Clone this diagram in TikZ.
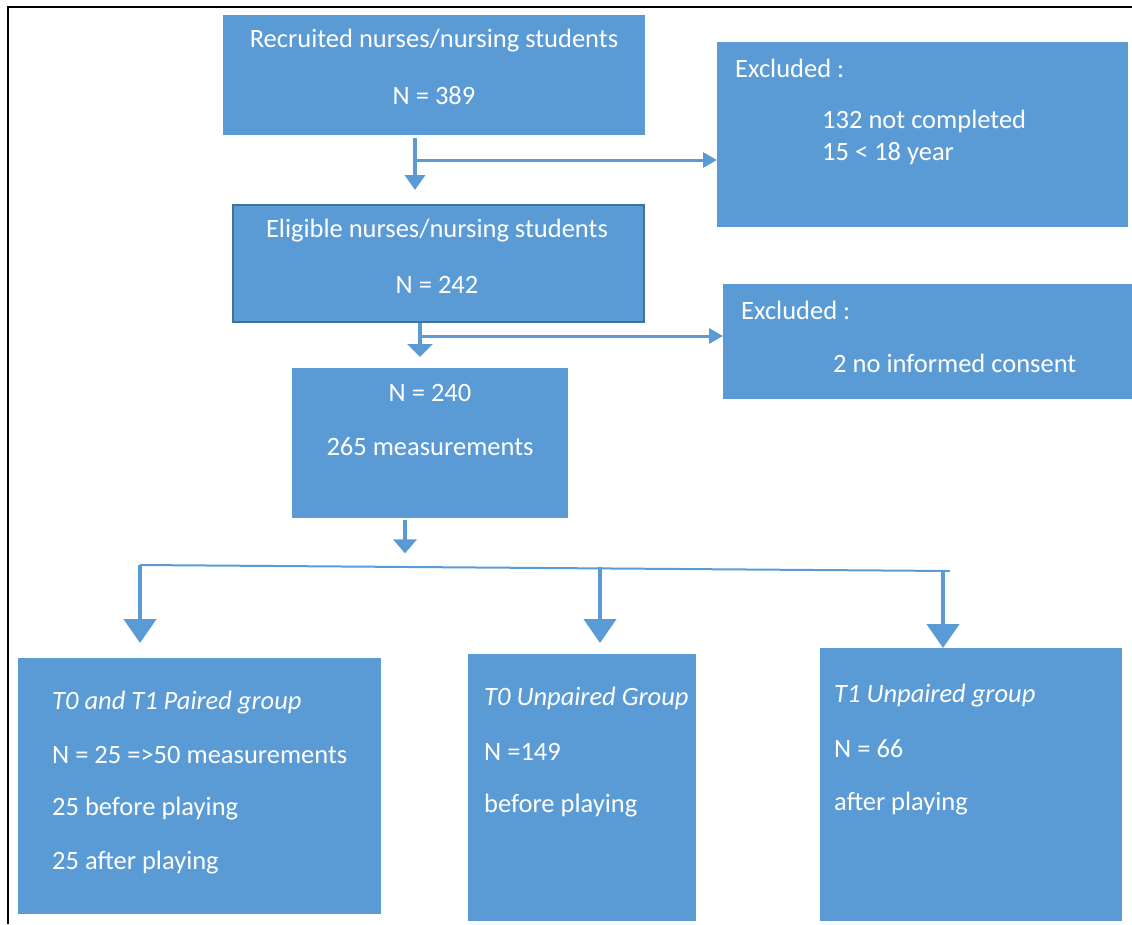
\documentclass[tikz,border=0pt]{standalone}
\usepackage{fontspec}
\setmainfont{Carlito}
\usetikzlibrary{arrows.meta}
\definecolor{boxblue}{HTML}{5B9BD5}
\definecolor{rimblue}{HTML}{41719C}

\begin{document}
\begin{tikzpicture}[x=1pt, y=-1pt,
        box/.style={fill=boxblue, draw=none, anchor=north west, inner sep=0pt},
        txt/.style={text=white, inner sep=0pt, font=\fontsize{26.5}{30}\selectfont},
        ltxt/.style={txt, anchor=west},
        down/.style={draw=boxblue, line width=4pt, -{Triangle[width=20pt, length=15pt]}},
        side/.style={draw=boxblue, line width=3pt, -{Triangle[width=15pt, length=14pt]}},
        bigdown/.style={draw=boxblue, line width=4.5pt, -{Triangle[width=32pt, length=24pt]}}
      ]
      \useasboundingbox (0,0) rectangle (1132,924);
      \draw[line width=1.5pt] (8,924) -- (8,7) -- (1132,7);

      % boxes
      \node[box, minimum width=422pt, minimum height=120pt] (rec) at (223,15) {};
      \node[box, minimum width=411pt, minimum height=185pt] (exa) at (717,42) {};
      \node[box, draw=rimblue, line width=2pt, minimum width=411pt, minimum height=117pt] (eli) at (232,204) {};
      \node[box, minimum width=409pt, minimum height=115pt] (exb) at (723,284) {};
      \node[box, minimum width=276pt, minimum height=150pt] (all) at (292,368) {};
      \node[box, minimum width=363pt, minimum height=256pt] (pair) at (18,658) {};
      \node[box, minimum width=228pt, minimum height=267pt] (unzero) at (468,654) {};
      \node[box, minimum width=302pt, minimum height=273pt] (unone) at (820,648) {};

      % texts
      \node[txt] (rec1) at (434,41) {Recruited nurses/nursing students};
      \node[txt] (rec2) at (434,96) {N = 389};
      \node[ltxt] (exa1) at (735,68) {Excluded :};
      \node[ltxt] (exa2) at (822,121) {132 not completed};
      \node[ltxt] (exa3) at (822,154) {15 < 18 year};
      \node[txt] (eli1) at (437,231) {Eligible nurses/nursing students};
      \node[txt] (eli2) at (437,285) {N = 242};
      \node[ltxt] (exb1) at (741,310) {Excluded :};
      \node[ltxt] (exb2) at (833,363) {2 no informed consent};
      \node[txt] (all1) at (430,393) {N = 240};
      \node[txt] (all2) at (430,447) {265 measurements};
      \node[ltxt] (pair1) at (52,703) {\itshape T0 and T1 Paired group};
      \node[ltxt] (pair2) at (52,755) {N = 25 =>50 measurements};
      \node[ltxt] (pair3) at (52,809) {25 before playing};
      \node[ltxt] (pair4) at (52,863) {25 after playing};
      \node[ltxt] (unzero1) at (484,698) {\itshape T0 Unpaired Group};
      \node[ltxt] (unzero2) at (484,752) {N =149};
      \node[ltxt] (unzero3) at (484,806) {before playing};
      \node[ltxt] (unone1) at (834,696) {\itshape T1 Unpaired group};
      \node[ltxt] (unone2) at (834,749) {N = 66};
      \node[ltxt] (unone3) at (834,804) {after playing};

      % connectors
      \coordinate (ja) at (415,160);
      \coordinate (jb) at (420,336);
      \coordinate (jc) at (405,0);
      \draw[down, shorten <=3pt, shorten >=14pt] (rec.south -| ja) -- (eli.north -| ja);
      \draw[side] (ja) -- (exa.west |- ja);
      \draw[down, -{Triangle[width=25pt, length=13pt]}, shorten >=11pt] (eli.south -| jb) -- (all.north -| jb);
      \draw[side] (jb) -- (exb.west |- jb);
      \draw[down, -{Triangle[width=23pt, length=14pt]}, shorten <=2pt] (all.south -| jc) -- ++(0,35);

      \coordinate (sa) at (140,565);
      \coordinate (sb) at (600,567);
      \coordinate (sc) at (943,571);
      \draw[draw=boxblue, line width=2pt] (sa) -- (950,571);
      \draw[bigdown, shorten >=15pt] (sa) -- (pair.north -| sa);
      \draw[bigdown, shorten >=11pt] (sb) -- (unzero.north -| sb);
      \draw[bigdown] (sc) -- (unone.north -| sc);
\end{tikzpicture}
\end{document}
